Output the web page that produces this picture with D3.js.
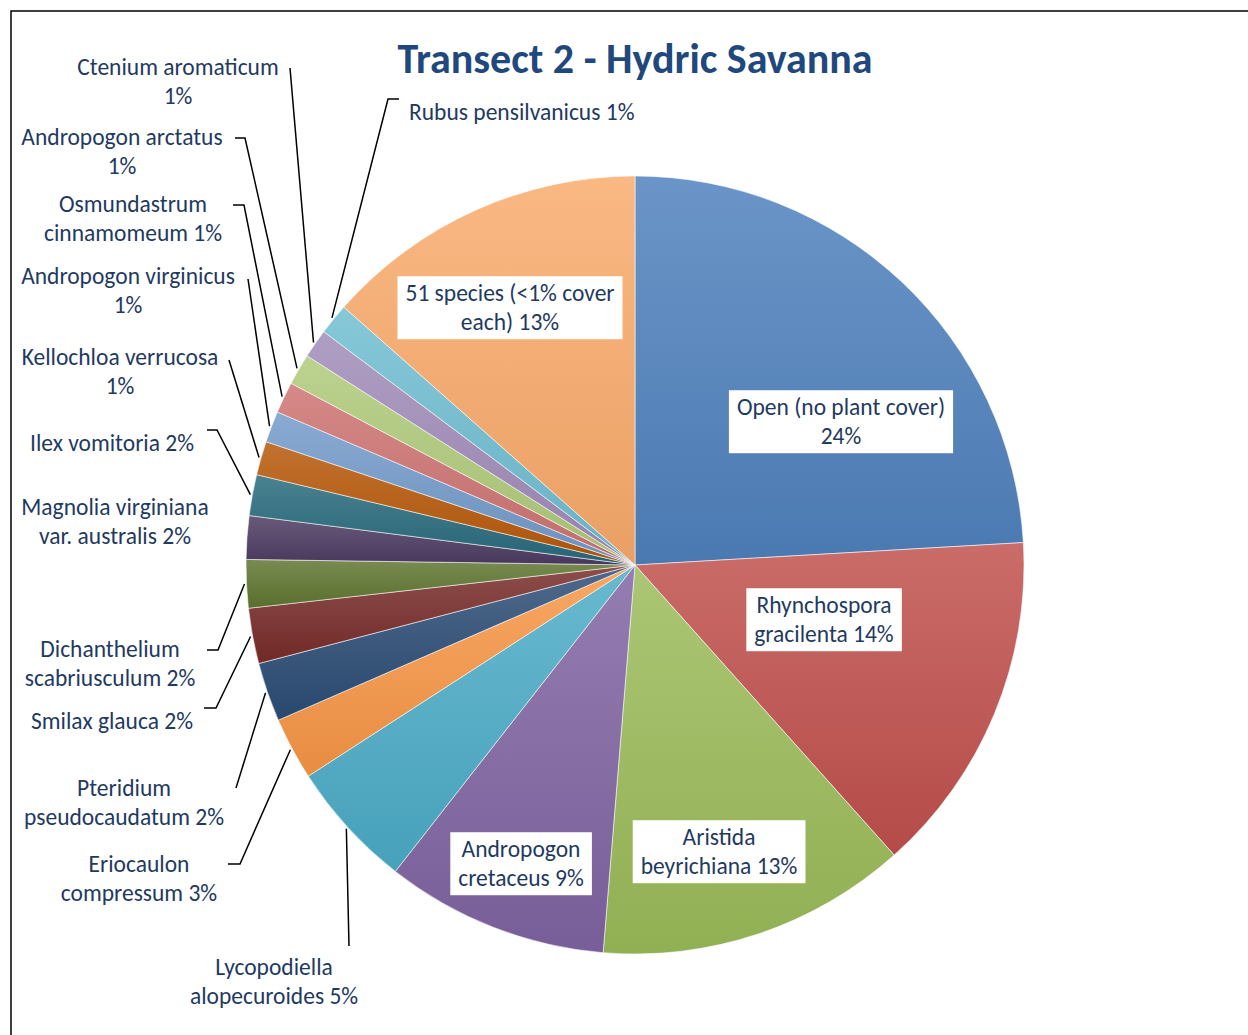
<!DOCTYPE html>
<html><head><meta charset="utf-8">
<script src="https://cdn.jsdelivr.net/npm/d3@7"></script>
<style>body{margin:0;background:#fff}svg{display:block}</style>
</head><body>
<svg id="chart" width="1248" height="1035"></svg>
<script>
// ---- data ----
const categories = ["Open (no plant cover)","Rhynchospora gracilenta","Aristida beyrichiana","Andropogon cretaceus","Lycopodiella alopecuroides","Eriocaulon compressum","Pteridium pseudocaudatum","Smilax glauca","Dichanthelium scabriusculum","Magnolia virginiana var. australis","Ilex vomitoria","Kellochloa verrucosa","Andropogon virginicus","Osmundastrum cinnamomeum","Andropogon arctatus","Ctenium aromaticum","Rubus pensilvanicus","51 species (<1% cover each)"];
const values = [24.06,14.3,12.9,9.25,5.3,2.6,2.45,2.3,2.0,1.8,1.7,1.4,1.3,1.3,1.3,1.2,1.3,13.45];
const colors = ["#4F81BD","#C0504D","#9BBB59","#8064A2","#4BACC6","#F79646","#2C4D75","#772C2A","#5F7530","#4D3B62","#276A7C","#B65708","#729ACA","#CD7371","#AFC97A","#A08BB9","#6FBDD1","#F9AB6B"];
// label text lines (percent appended from values)
const labelLines = [
  ["Open (no plant cover)",""],
  ["Rhynchospora","gracilenta "],
  ["Aristida","beyrichiana "],
  ["Andropogon","cretaceus "],
  ["Lycopodiella","alopecuroides "],
  ["Eriocaulon","compressum "],
  ["Pteridium","pseudocaudatum "],
  ["Smilax glauca "],
  ["Dichanthelium","scabriusculum "],
  ["Magnolia virginiana","var. australis "],
  ["Ilex vomitoria "],
  ["Kellochloa verrucosa",""],
  ["Andropogon virginicus",""],
  ["Osmundastrum","cinnamomeum "],
  ["Andropogon arctatus",""],
  ["Ctenium aromaticum",""],
  ["Rubus pensilvanicus "],
  ["51 species (<1% cover","each) "]
];
const title = "Transect 2 - Hydric Savanna";

// ---- layout (positions only) ----
const W = 1248, H = 1035, cx = 635, cy = 565, R = 389;
const layout = [
  {x:841,y:407,a:"middle",box:true},
  {x:824,y:605,a:"middle",box:true},
  {x:719,y:837,a:"middle",box:true},
  {x:521,y:849,a:"middle",box:true},
  {x:274,y:967,a:"middle",pts:[[349,946]]},
  {x:139,y:864,a:"middle",pts:[[228,864],[240,864]]},
  {x:124,y:788,a:"middle",pts:[[236,788]]},
  {x:112,y:721,a:"middle",pts:[[204,708],[216,708]]},
  {x:110,y:649,a:"middle",pts:[[207,650],[218,650]]},
  {x:115,y:507,a:"middle"},
  {x:112,y:443,a:"middle",pts:[[207,430],[217,430]]},
  {x:120,y:357,a:"middle",pts:[[229,360]]},
  {x:128,y:276,a:"middle",pts:[[248,279]]},
  {x:133,y:204,a:"middle",pts:[[233,205],[244,205]]},
  {x:122,y:137,a:"middle",pts:[[235,138],[245,138]]},
  {x:178,y:67,a:"middle",pts:[[290,68]]},
  {x:409,y:112,a:"start",pts:[[399,99],[388,99]]},
  {x:510,y:293,a:"middle",box:true}
];
const lineH = 29;
const font = "Carlito, Calibri, Lato, 'Open Sans', sans-serif";

const svg = d3.select("#chart");
svg.append("rect").attr("x",11).attr("y",11).attr("width",W+20).attr("height",H+20)
  .attr("fill","#fff").attr("stroke","#000").attr("stroke-width",1.5);

const total = d3.sum(values);
const pie = d3.pie().sort(null).value(d=>d)(values);
const arc = d3.arc().innerRadius(0).outerRadius(R);

const defs = svg.append("defs");
colors.forEach((c,i)=>{
  const g = defs.append("linearGradient").attr("id","g"+i).attr("x1",0).attr("y1",0).attr("x2",0).attr("y2",1);
  g.append("stop").attr("offset","0%").attr("stop-color",d3.interpolateRgb(c,"#fff")(0.16));
  g.append("stop").attr("offset","100%").attr("stop-color",d3.color(c).darker(0.18));
});

const gp = svg.append("g").attr("transform",`translate(${cx},${cy})`);
gp.selectAll("path").data(pie).join("path")
  .attr("d",arc).attr("fill",(d,i)=>`url(#g${i})`)
  .attr("stroke","#fff").attr("stroke-width",0.7).attr("stroke-opacity",0.8);

// title
svg.append("text").attr("x",635).attr("y",73).attr("text-anchor","middle")
  .attr("font-family",font).attr("font-weight","bold").attr("font-size",42)
  .attr("fill","#1F497D").text(title);

// leaders
const lineGen = d3.line();
pie.forEach((d,i)=>{
  const L = layout[i];
  if(!L.pts) return;
  const mid = (d.startAngle+d.endAngle)/2;
  const end = [cx + (R+2)*Math.sin(mid), cy - (R+2)*Math.cos(mid)];
  svg.append("path").attr("d",lineGen([...L.pts,end])).attr("fill","none")
    .attr("stroke","#000").attr("stroke-width",1.5);
});

// labels
pie.forEach((d,i)=>{
  const L = layout[i];
  const pct = Math.round(values[i]/total*100)+"%";
  let lines = labelLines[i].slice();
  const last = lines.length-1;
  if(lines[last]==="") lines[last]=pct; else lines[last]=lines[last]+pct;
  const g = svg.append("g");
  const t = g.append("text").attr("font-family",font).attr("font-size",23.5)
    .attr("fill","#1F3A5F").attr("text-anchor",L.a);
  lines.forEach((ln,k)=>{
    t.append("tspan").attr("x",L.x).attr("y",L.y+k*lineH).attr("dy","0.35em").text(ln);
  });
  if(L.box){
    const bb = t.node().getBBox();
    g.insert("rect","text").attr("x",bb.x-8).attr("y",bb.y-3)
      .attr("width",bb.width+16).attr("height",bb.height+6).attr("fill","#fff");
  }
});
</script>
</body></html>
